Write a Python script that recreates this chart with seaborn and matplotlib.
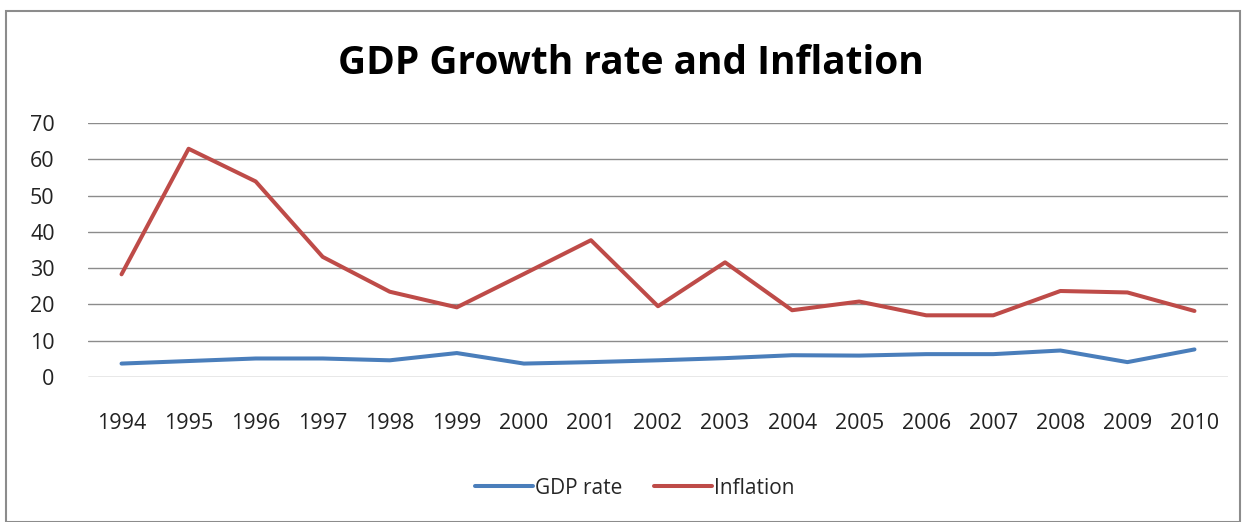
import matplotlib
matplotlib.use("Agg")
import matplotlib.pyplot as plt
import seaborn as sns
import pandas as pd
from matplotlib.patches import Rectangle
from matplotlib.lines import Line2D

years = ["1994", "1995", "1996", "1997", "1998", "1999", "2000", "2001", "2002",
         "2003", "2004", "2005", "2006", "2007", "2008", "2009", "2010"]
gdp_rate = [3.7, 4.4, 5.1, 5.1, 4.6, 6.6, 3.7, 4.1, 4.6, 5.2, 6.0, 5.9, 6.3, 6.3, 7.3, 4.1, 7.6]
inflation = [28.3, 62.9, 53.9, 33.1, 23.5, 19.2, 28.4, 37.7, 19.5, 31.6, 18.4, 20.8, 17.0, 17.0, 23.7, 23.3, 18.2]
series_names = ["GDP rate", "Inflation"]
colors = {"GDP rate": "#4A7EBB", "Inflation": "#BE4B48"}

df = pd.DataFrame({
    "idx": list(range(len(years))) * 2,
    "value": gdp_rate + inflation,
    "series": [series_names[0]] * len(years) + [series_names[1]] * len(years),
})

sns.set_theme(style="white")
plt.rcParams["font.family"] = ["Open Sans", "DejaVu Sans"]

fig = plt.figure(figsize=(12.44, 5.22), dpi=100)
ax = fig.add_axes([88 / 1244, 1 - 377 / 522, (1228 - 88) / 1244, (377 - 123) / 522])

sns.lineplot(data=df, x="idx", y="value", hue="series", palette=colors,
             linewidth=2.9, ax=ax, legend=False)

ax.set_xlim(-0.5, len(years) - 0.5)
ax.set_ylim(0, 70)
ax.set_yticks(range(0, 71, 10))
ax.set_xticks(range(len(years)))
ax.set_xticklabels(years)
ax.yaxis.grid(True, color="#8C8C8C", linewidth=1.0)
ax.xaxis.grid(False)
for s in ax.spines.values():
    s.set_visible(False)
ax.tick_params(axis="both", length=0, labelsize=15.5, colors="#222222")
ax.tick_params(axis="x", pad=26)
ax.tick_params(axis="y", pad=24)
ax.set_xlabel("")
ax.set_ylabel("")

fig.text(631 / 1244, 1 - 63 / 522, "GDP Growth rate and Inflation",
         ha="center", va="center", fontsize=28, fontweight="bold", color="black")

handles = [Line2D([], [], color=colors[n], linewidth=2.9) for n in series_names]
fig.legend(handles, series_names, loc="center", bbox_to_anchor=(635 / 1244, 1 - 488 / 522),
           ncol=2, frameon=False, fontsize=15, handlelength=2.8, handletextpad=0.1,
           columnspacing=1.5)

fig.patches.append(Rectangle((6 / 1244, 0), (1240 - 6) / 1244, 1 - 11 / 522,
                             transform=fig.transFigure, fill=False,
                             edgecolor="#8C8C8C", linewidth=1.5))

fig.savefig("out.png", dpi=100)
